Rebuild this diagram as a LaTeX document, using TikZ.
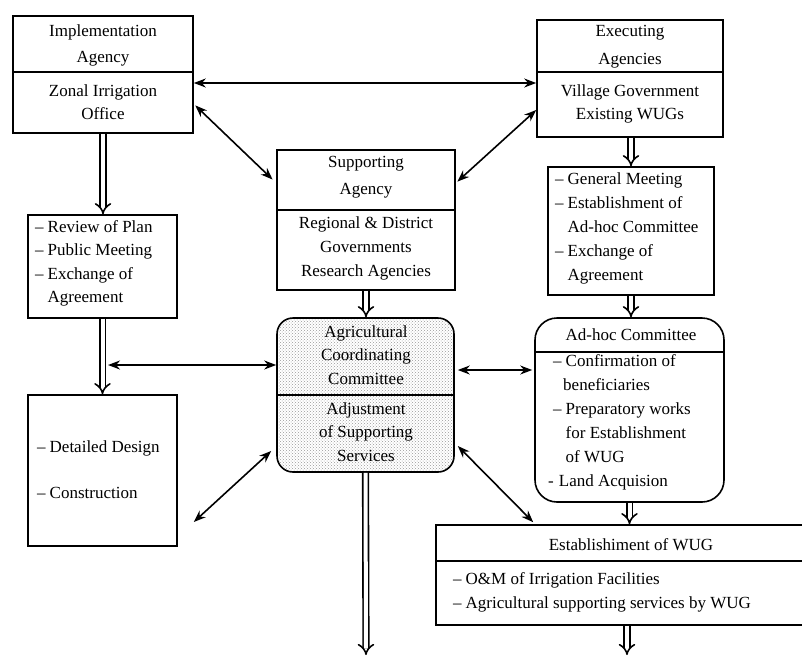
\documentclass[tikz,border=0pt]{standalone}
\usepackage{fontspec}
\setmainfont{Liberation Serif}
\usetikzlibrary{arrows.meta,patterns,calc}
\newcommand\mydash{–\hspace{4pt}}
\newcommand\myind{\hspace*{12.5pt}}
\begin{document}
\begin{tikzpicture}[x=1pt,y=-1pt,
  font=\fontsize{17}{24}\selectfont,
  box/.style={draw, line width=1.6pt, inner sep=0pt, rectangle},
  txt/.style={inner sep=0pt, align=center},
  ltxt/.style={inner sep=0pt, align=left, anchor=west},
  biarrow/.style={line width=1.6pt, {Stealth[length=12pt,width=9pt]}-{Stealth[length=12pt,width=9pt]}},
  hollow/.style={double, double distance=4pt, line width=1.6pt, -{Implies}},
  divider/.style={line width=1.4pt}]
\useasboundingbox (0,0) rectangle (802,656);
\clip (0,0) rectangle (802,656);

% boxes
\node[box, minimum width=180pt, minimum height=117pt] (A) at (103,74.5) {};
\node[box, minimum width=186pt, minimum height=117pt] (E) at (630,78.5) {};
\node[box, minimum width=178pt, minimum height=140pt] (S) at (366,220) {};
\node[box, minimum width=149pt, minimum height=103pt] (R) at (102.5,266.5) {};
\node[box, minimum width=166pt, minimum height=128pt] (G) at (631,231) {};
\node[box, minimum width=149pt, minimum height=151pt] (D) at (102.5,470.5) {};
\node[box, rounded corners=16pt, pattern=crosshatch dots, pattern color=gray!80,
      minimum width=177pt, minimum height=154pt] (C) at (365.5,395) {};
\node[box, rounded corners=22pt, minimum width=189pt, minimum height=184pt] (H) at (629.5,410) {};
\node[box, minimum width=384pt, minimum height=100pt] (W) at (628,575) {};

% dividers
\draw[divider] (A.west |- 0,72) -- (A.east |- 0,72);
\draw[divider] (E.west |- 0,72) -- (E.east |- 0,72);
\draw[divider] (S.west |- 0,210) -- (S.east |- 0,210);
\draw[divider] (C.west |- 0,395) -- (C.east |- 0,395);
\draw[divider] (H.west |- 0,352) -- (H.east |- 0,352);
\draw[divider] (W.west |- 0,561) -- (W.east |- 0,561);

% texts
\node[txt, font=\fontsize{17}{26}\selectfont] (A1) at (103,45) {Implementation\\Agency};
\node[txt, font=\fontsize{17}{23}\selectfont] (A2) at (103,102) {Zonal Irrigation\\Office};
\node[txt, font=\fontsize{17}{28}\selectfont] (E1) at (630,47) {Executing\\Agencies};
\node[txt, font=\fontsize{17}{23}\selectfont] (E2) at (630,104) {Village Government\\Existing WUGs};
\node[txt, font=\fontsize{17}{27}\selectfont] (S1) at (366,177) {Supporting\\Agency};
\node[txt] (S2) at (366,248) {Regional \& District\\Governments\\Research Agencies};
\node[txt, font=\fontsize{17}{23.5}\selectfont] (C1) at (366,355) {Agricultural\\Coordinating\\Committee};
\node[txt, font=\fontsize{17}{23.5}\selectfont] (C2) at (366,432) {Adjustment\\of Supporting\\Services};
\node[txt] (H1) at (631,335) {Ad-hoc Committee};
\node[ltxt] (H2) at (553,422.5) {\mydash Confirmation of\\\hspace*{10pt}beneficiaries\\\mydash Preparatory works\\\myind for Establishment\\\myind of WUG\\\hspace*{-5pt}-\hspace{5pt}Land Acquision};
\node[txt] (W1) at (631,545) {Establishiment of WUG};
\node[ltxt] (W2) at (453,592.5) {\mydash O\&M of Irrigation Facilities\\\mydash Agricultural supporting services by WUG};
\node[ltxt, font=\fontsize{17}{23.5}\selectfont] (R1) at (35,263.5) {\mydash Review of Plan\\\mydash Public Meeting\\\mydash Exchange of\\\myind Agreement};
\node[ltxt] (G1) at (555,228) {\mydash General Meeting\\\mydash Establishment of\\\myind Ad-hoc Committee\\\mydash Exchange of\\\myind Agreement};
\node[ltxt] (D1) at (37,470) {\mydash Detailed Design\\[22pt]\mydash Construction};

% hollow flow arrows
\coordinate (bot1) at (366,655);
\coordinate (bot2) at (627,655);
\draw[hollow] (A.south) -- (A.south |- R.north);
\draw[hollow] (R.south) -- (R.south |- D.north);
\draw[hollow] (S.south) -- (S.south |- C.north);
\draw[hollow] (C.south) -- (bot1);
\draw[hollow] (G.north |- E.south) -- (G.north);
\draw[hollow] (G.south) -- (G.south |- H.north);
\draw[hollow] (H.south) -- (H.south |- W.north);
\draw[hollow] (bot2 |- W.south) -- (bot2);

% double-headed arrows
\coordinate (sh1) at (108,365);
\draw[biarrow] (A.east |- 0,83) -- (E.west |- 0,83);
\draw[biarrow, shorten >=5pt, shorten <=2pt] (A.east |- 0,104) -- (S.west |- 0,183);
\draw[biarrow, shorten >=2pt] (E.west |- 0,110) -- (S.east |- 0,183);
\draw[biarrow] (sh1) -- (C.west |- 0,365);
\draw[biarrow, shorten >=2pt, shorten <=3pt] (C.east |- 0,370) -- (H.west |- 0,370);
\draw[biarrow] ($(D.east |- 0,522)+(16,0)$) -- ($(C.west |- 0,451)+(-5,0)$);
\draw[biarrow] ($(C.east |- 0,446)+(3,0)$) -- ($(W.north west)+(98,-2)$);
\end{tikzpicture}
\end{document}
